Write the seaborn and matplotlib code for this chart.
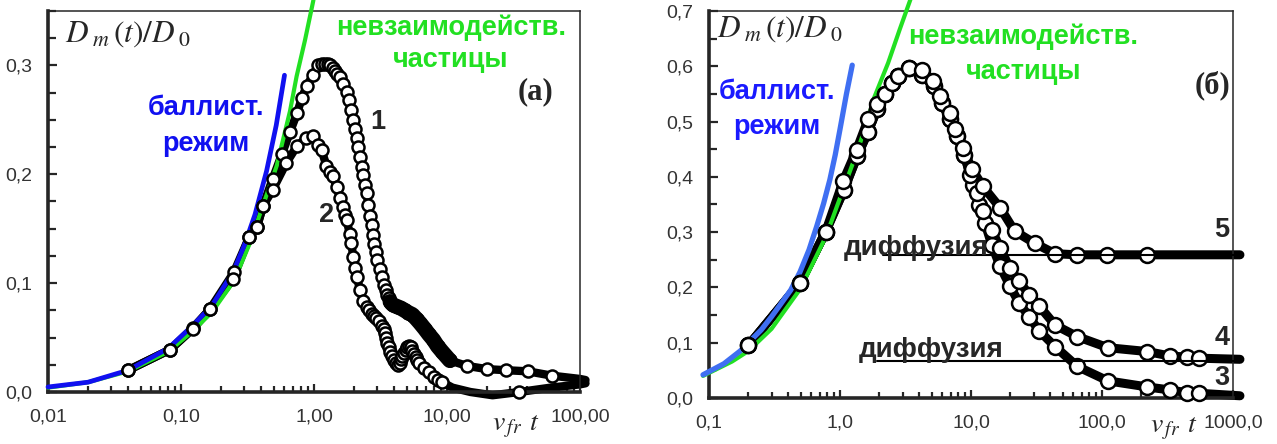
"""
Two-panel plot of the normalized mobility D_m(t)/D_0 vs v_fr t.
"""

import matplotlib
matplotlib.use("Agg")
import matplotlib.pyplot as plt
import matplotlib.ticker as mticker
import numpy as np
import pandas as pd
import seaborn as sns

# ---------------- panel (а) ----------------
ballist_a_x = [0.01, 0.02, 0.04, 0.08, 0.12, 0.17, 0.246, 0.30, 0.36, 0.44, 0.52, 0.6]
ballist_a_y = [0.0046, 0.009, 0.02, 0.04, 0.06, 0.079, 0.110, 0.135, 0.163, 0.203, 0.245, 0.291]

free_a_x = [0.01, 0.02, 0.04, 0.08, 0.12, 0.17, 0.25, 0.33, 0.415, 0.525, 0.66, 0.74, 0.855, 0.99]
free_a_y = [0.004, 0.009, 0.019, 0.037, 0.055, 0.073, 0.102, 0.137, 0.172, 0.208, 0.258, 0.29, 0.323, 0.36]

s1_x = [0.04, 0.083, 0.123, 0.165, 0.25, 0.325, 0.373, 0.414, 0.49, 0.576, 0.66, 0.745, 0.81,
        0.88, 0.98, 1.07, 1.14, 1.21, 1.27, 1.32, 1.38, 1.44, 1.5, 1.57, 1.65, 1.76, 1.83, 1.89,
        1.96, 2.03, 2.09, 2.14, 2.22, 2.28, 2.33, 2.42, 2.49, 2.56, 2.63, 2.72, 2.77, 2.83, 2.94,
        3.0, 3.14, 3.27, 3.36, 3.45, 3.55, 3.64, 3.74, 3.85, 3.95, 4.1, 4.3, 4.5, 4.8, 5.1, 5.5,
        5.9, 6.3, 6.8, 7.3, 7.9, 8.5, 9.2, 10.5, 14.1, 20.0, 28.0, 40.6, 61.5]
s1_y = [0.020, 0.039, 0.059, 0.076, 0.110, 0.142, 0.152, 0.171, 0.196, 0.219, 0.239, 0.256, 0.270,
        0.281, 0.291, 0.300, 0.301, 0.3015, 0.301, 0.300, 0.298, 0.295, 0.292, 0.289, 0.283, 0.276,
        0.268, 0.259, 0.250, 0.242, 0.233, 0.225, 0.216, 0.207, 0.199, 0.190, 0.183, 0.172, 0.162,
        0.153, 0.144, 0.136, 0.129, 0.121, 0.113, 0.106, 0.098, 0.094, 0.089, 0.086, 0.083, 0.081,
        0.080, 0.079, 0.078, 0.077, 0.075, 0.073, 0.071, 0.067, 0.063, 0.058, 0.053, 0.048, 0.042,
        0.037, 0.029, 0.024, 0.021, 0.020, 0.019, 0.015]
s1_tail_x = [100.0, 110.0]
s1_tail_y = [0.012, 0.011]

s2_x = [0.04, 0.083, 0.123, 0.165, 0.246, 0.325, 0.373, 0.414, 0.49, 0.616, 0.745, 0.87, 0.98,
        1.07, 1.14, 1.24, 1.32, 1.39, 1.48, 1.57, 1.66, 1.71, 1.76, 1.86, 1.91, 1.97, 2.03, 2.09,
        2.22, 2.34, 2.49, 2.6, 2.72, 2.83, 2.95, 3.1, 3.24, 3.35, 3.43, 3.5, 3.55, 3.65, 3.74, 3.85,
        3.97, 4.1, 4.26, 4.4, 4.5, 4.62, 4.75, 4.88, 5.0, 5.2, 5.35, 5.5, 5.65, 5.8, 6.0, 6.2, 6.7,
        7.3, 8.0, 8.6, 9.2, 35.0]
s2_y = [0.020, 0.039, 0.058, 0.076, 0.104, 0.142, 0.152, 0.171, 0.186, 0.210, 0.226, 0.233, 0.235,
        0.227, 0.222, 0.208, 0.202, 0.198, 0.188, 0.178, 0.170, 0.163, 0.158, 0.145, 0.137, 0.124,
        0.114, 0.106, 0.094, 0.084, 0.078, 0.075, 0.072, 0.070, 0.068, 0.065, 0.061, 0.058, 0.054,
        0.050, 0.045, 0.041, 0.037, 0.033, 0.029, 0.027, 0.025, 0.027, 0.030, 0.033, 0.036, 0.039,
        0.041, 0.042, 0.041, 0.038, 0.035, 0.032, 0.029, 0.027, 0.022, 0.018, 0.014, 0.011, 0.009,
        0.0]
s2_tail_x = [11.0, 15.0, 22.0, 60.0, 100.0, 110.0]
s2_tail_y = [0.004, 0.0, -0.003, 0.004, 0.007, 0.008]

# ---------------- panel (б) ----------------
ballist_b_x = [0.09, 0.13, 0.173, 0.25, 0.30, 0.348, 0.42, 0.495, 0.58, 0.663, 0.75, 0.837,
               0.92, 1.0, 1.12, 1.24]
ballist_b_y = [0.042, 0.062, 0.085, 0.123, 0.147, 0.168, 0.195, 0.228, 0.268, 0.310, 0.352,
               0.395, 0.44, 0.486, 0.55, 0.602]

free_b_x = [0.09, 0.15, 0.2, 0.3, 0.5, 0.78, 1.06, 1.35, 1.64, 1.8, 2.33, 2.86, 3.45]
free_b_y = [0.04, 0.066, 0.085, 0.125, 0.198, 0.292, 0.378, 0.445, 0.505, 0.54, 0.606, 0.667, 0.721]

rise_x = [0.2, 0.495, 0.778]
rise_y = [0.095, 0.208, 0.301]
peak_x = [2.21, 2.51, 2.79, 3.38]
peak_y = [0.549, 0.570, 0.583, 0.597]

s5_x = rise_x + [1.06, 1.34, 1.64, 1.91] + peak_x + [
    4.21, 5.1, 5.8, 6.9, 7.56, 8.7, 10.1, 12.3, 16.7, 21.5, 30.6, 43.8, 64.7, 110.0, 221.0]
s5_y = rise_y + [0.393, 0.449, 0.504, 0.531] + peak_y + [
    0.594, 0.574, 0.546, 0.516, 0.486, 0.452, 0.415, 0.383, 0.344, 0.302, 0.280, 0.261, 0.259,
    0.259, 0.259]
s5_tail_x = [1130.0]
s5_tail_y = [0.259]

s4_x = rise_x + [1.07, 1.35, 1.64, 1.92] + peak_x + [
    4.21, 5.18, 5.97, 6.9, 7.8, 8.9, 9.8, 11.1, 12.4, 14.4, 16.7, 19.8, 23.3, 27.8, 33.0, 43.8,
    64.9, 110.9, 222.0, 330.0, 443.0, 553.0]
s4_y = rise_y + [0.376, 0.437, 0.482, 0.522] + peak_y + [
    0.585, 0.564, 0.534, 0.504, 0.473, 0.440, 0.404, 0.371, 0.338, 0.304, 0.271, 0.235, 0.211,
    0.187, 0.167, 0.132, 0.111, 0.091, 0.084, 0.076, 0.074, 0.072]
s4_tail_x = [1130.0]
s4_tail_y = [0.070]

s3_x = rise_x + [1.07, 1.35, 1.64, 1.92] + peak_x + [
    4.21, 5.18, 5.97, 6.9, 7.8, 8.9, 10.4, 11.5, 12.8, 14.4, 16.7, 19.8, 23.3, 27.8, 33.0, 43.8,
    64.9, 110.9, 222.0, 330.0, 443.0, 553.0]
s3_y = rise_y + [0.376, 0.437, 0.482, 0.522] + peak_y + [
    0.585, 0.564, 0.534, 0.504, 0.473, 0.440, 0.385, 0.350, 0.316, 0.277, 0.238, 0.203, 0.172,
    0.147, 0.122, 0.093, 0.057, 0.031, 0.020, 0.0145, 0.0097, 0.0085]
s3_tail_x = [1130.0]
s3_tail_y = [0.004]

# asymptotes ("диффузия")
diff_hi_x = [2.13, 1130.0]
diff_hi_y = [0.259, 0.259]
diff_lo_x = [1.91, 1130.0]
diff_lo_y = [0.067, 0.067]

GREEN = "#22e022"
BLUE = "#1010f0"
BLUE_B = "#3f6ff2"


def draw_series(ax, mx, my, tx, ty, lw, ms):
    """Thick black line through the points plus open circle markers."""
    line = pd.DataFrame({"x": list(mx) + list(tx), "y": list(my) + list(ty)}).sort_values("x")
    sns.lineplot(data=line, x="x", y="y", ax=ax, color="black", lw=lw,
                 sort=False, estimator=None, zorder=2)
    ax.lines[-1].set_clip_on(False)
    sns.scatterplot(x=mx, y=my, ax=ax, s=ms, facecolor="white", edgecolor="black",
                    linewidth=1.8, zorder=5, clip_on=False)


def draw_curve(ax, x, y, color, lw, z=3):
    sns.lineplot(x=x, y=y, ax=ax, color=color, lw=lw, sort=False, estimator=None, zorder=z)
    ax.lines[-1].set_clip_on(False)


def style_axes(ax, xticks, xlabels, yticks, ylabels, yminor, xlim, ylim):
    ax.set_xscale("log")
    ax.set_xlim(*xlim)
    ax.set_ylim(*ylim)
    ax.xaxis.set_major_locator(mticker.FixedLocator(xticks))
    ax.xaxis.set_major_formatter(mticker.FixedFormatter(xlabels))
    ax.xaxis.set_minor_locator(mticker.LogLocator(base=10, subs=np.arange(2, 10)))
    ax.xaxis.set_minor_formatter(mticker.NullFormatter())
    ax.yaxis.set_major_locator(mticker.FixedLocator(yticks))
    ax.yaxis.set_major_formatter(mticker.FixedFormatter(ylabels))
    ax.yaxis.set_minor_locator(mticker.MultipleLocator(yminor))
    ax.tick_params(axis="both", which="both", direction="in", top=False, right=False,
                   width=1.6, labelsize=14, labelcolor="#333333")
    ax.tick_params(axis="x", which="major", length=6, pad=12)
    ax.tick_params(axis="x", which="minor", length=4)
    ax.tick_params(axis="y", which="major", length=6.5, pad=11)
    ax.tick_params(axis="y", which="minor", length=5.5)
    for side in ["left", "bottom"]:
        ax.spines[side].set_linewidth(2.6)
    for side in ["top", "right"]:
        ax.spines[side].set_linewidth(1.1)
        ax.spines[side].set_visible(True)
    ax.set_xlabel("")
    ax.set_ylabel("")


sns.set_theme(style="ticks")
plt.rcParams["font.family"] = ["Liberation Sans", "DejaVu Sans"]
plt.rcParams["mathtext.fontset"] = "stix"

fig = plt.figure(figsize=(12.77, 4.44), dpi=100)
ax_a = fig.add_axes([48 / 1277, 1 - 392 / 444, 532 / 1277, 381 / 444])
ax_b = fig.add_axes([709 / 1277, 1 - 398 / 444, 524 / 1277, 387 / 444])

LABEL = dict(fontsize=19.5, fontweight="bold", ha="center", va="center")

# ---- panel (а)
ax_a.set_xscale("log")
draw_series(ax_a, s1_x, s1_y, s1_tail_x, s1_tail_y, 6.0, 75)
draw_series(ax_a, s2_x, s2_y, s2_tail_x, s2_tail_y, 6.0, 75)
# dense overlapping markers in the shoulder of curve 1 look like a solid band
shoulder = [i for i, v in enumerate(s1_x) if 3.7 <= v <= 10.5]
sns.lineplot(x=[s1_x[i] for i in shoulder], y=[s1_y[i] for i in shoulder], ax=ax_a,
             color="black", lw=11, sort=False, estimator=None, zorder=6)
draw_curve(ax_a, free_a_x, free_a_y, GREEN, 3.0)
draw_curve(ax_a, ballist_a_x, ballist_a_y, BLUE, 3.4)

style_axes(ax_a, [0.01, 0.1, 1, 10, 100], ["0,01", "0,10", "1,00", "10,00", "100,00"],
           [0, 0.1, 0.2, 0.3], ["0,0", "0,1", "0,2", "0,3"], 0.025, (0.01, 100), (0, 0.35))

ax_a.text(0.032, 0.919, r"$D_{\;m}\,(t)/D_{\;0}$", transform=ax_a.transAxes,
          fontsize=22.5, ha="left", va="baseline")
ax_a.text(0.297, 0.745, "баллист.", transform=ax_a.transAxes, color=BLUE, **LABEL)
ax_a.text(0.297, 0.651, "режим", transform=ax_a.transAxes, color=BLUE, **LABEL)
ax_a.text(0.757, 0.955, "невзаимодейств.", transform=ax_a.transAxes, color=GREEN, **LABEL)
ax_a.text(0.757, 0.871, "частицы", transform=ax_a.transAxes, color=GREEN, **LABEL)
ax_a.text(0.917, 0.787, "(а)", transform=ax_a.transAxes, family="Liberation Serif",
          fontsize=22, fontweight="bold", ha="center", va="center")
ax_a.text(0.620, 0.709, "1", transform=ax_a.transAxes, **LABEL)
ax_a.text(0.524, 0.465, "2", transform=ax_a.transAxes, **LABEL)
ax_a.text(0.835, -0.10, r"$v_{\,fr}\;\,t$", transform=ax_a.transAxes, fontsize=20,
          ha="left", va="baseline")

# ---- panel (б)
ax_b.set_xscale("log")
draw_series(ax_b, s3_x, s3_y, s3_tail_x, s3_tail_y, 6.5, 115)
draw_series(ax_b, s4_x, s4_y, s4_tail_x, s4_tail_y, 6.5, 115)
draw_series(ax_b, s5_x, s5_y, s5_tail_x, s5_tail_y, 6.5, 115)
draw_curve(ax_b, free_b_x, free_b_y, GREEN, 3.0)
draw_curve(ax_b, ballist_b_x, ballist_b_y, BLUE_B, 3.8)
draw_curve(ax_b, diff_hi_x, diff_hi_y, "black", 1.5, z=6)
draw_curve(ax_b, diff_lo_x, diff_lo_y, "black", 1.5, z=6)

style_axes(ax_b, [0.1, 1, 10, 100, 1000], ["0,1", "1,0", "10,0", "100,0", "1000,0"],
           [0, 0.1, 0.2, 0.3, 0.4, 0.5, 0.6, 0.7],
           ["0,0", "0,1", "0,2", "0,3", "0,4", "0,5", "0,6", "0,7"], 0.05,
           (0.1, 1000), (0, 0.7))

ax_b.text(0.015, 0.933, r"$D_{\;m}\,(t)/D_{\;0}$", transform=ax_b.transAxes,
          fontsize=22.5, ha="left", va="baseline")
ax_b.text(0.130, 0.791, "баллист.", transform=ax_b.transAxes, color="#1a1aff", **LABEL)
ax_b.text(0.130, 0.700, "режим", transform=ax_b.transAxes, color="#1a1aff", **LABEL)
ax_b.text(0.599, 0.933, "невзаимодейств.", transform=ax_b.transAxes, color=GREEN, **LABEL)
ax_b.text(0.601, 0.842, "частицы", transform=ax_b.transAxes, color=GREEN, **LABEL)
ax_b.text(0.960, 0.809, "(б)", transform=ax_b.transAxes, family="Liberation Serif",
          fontsize=22, fontweight="bold", ha="center", va="center")
for label, fy in [("5", 0.434), ("4", 0.155), ("3", 0.052)]:
    ax_b.text(0.979, fy, label, transform=ax_b.transAxes, **LABEL)
ax_b.text(0.395, 0.388, "диффузия", transform=ax_b.transAxes, zorder=7,
          **{**LABEL, "fontsize": 20})
ax_b.text(0.424, 0.124, "диффузия", transform=ax_b.transAxes, zorder=7,
          **{**LABEL, "fontsize": 20})
ax_b.text(0.842, -0.09, r"$v_{\,fr}\;\,t$", transform=ax_b.transAxes, fontsize=20,
          ha="left", va="baseline")

fig.savefig("out.png", dpi=100)
